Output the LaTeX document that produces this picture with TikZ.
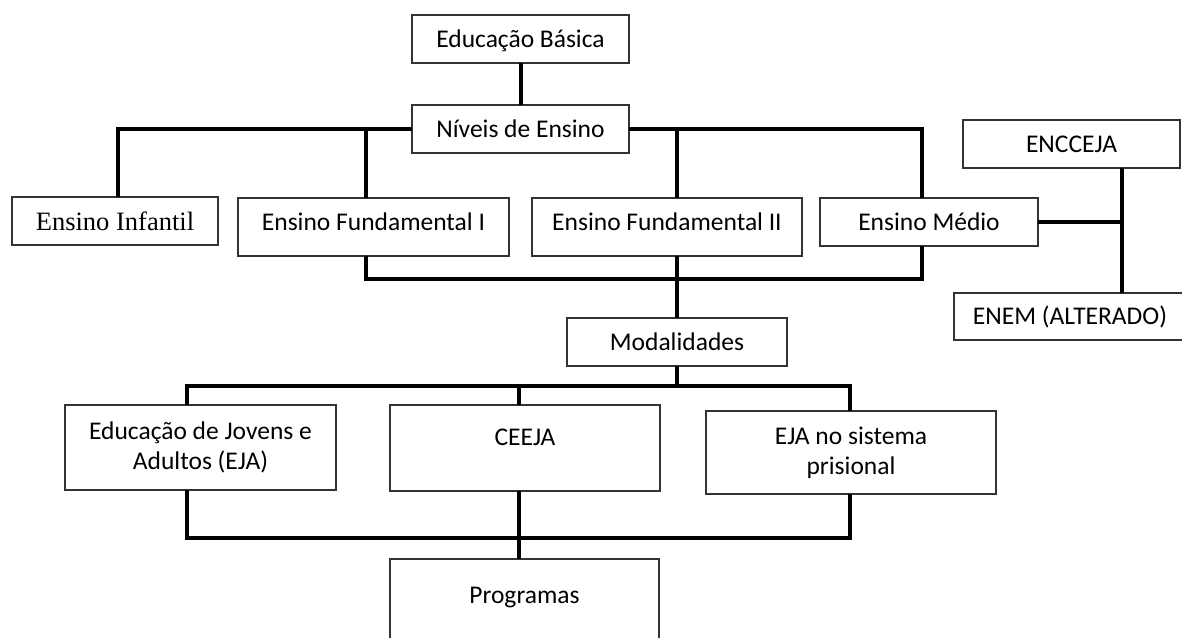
\documentclass[tikz,border=0pt]{standalone}
\usepackage{fontspec}
\setmainfont{Carlito}
\newfontfamily\serifone{Liberation Serif}
\begin{document}
\begin{tikzpicture}[x=1pt,y=-1pt,
  box/.style={draw=black!80, line width=1.2pt, rectangle, inner sep=0pt, outer sep=0pt,
    font=\fontsize{25.5}{30}\selectfont, align=center, text=black},
  tx/.style={text height=18pt, text depth=#1}, tx/.default=2pt,
  conn/.style={line width=4pt, black}]
\useasboundingbox (0,0) rectangle (1182,637);

\node[box, tx, minimum width=217pt, minimum height=48pt] (eb) at (520.5,39) {Educação Básica};
\node[box, tx, minimum width=217pt, minimum height=48pt] (ne) at (520.5,129) {Níveis de Ensino};
\node[box, minimum width=206pt, minimum height=48pt, font=\serifone\fontsize{26.5}{31}\selectfont,
      text height=18pt, text depth=0pt] (ei) at (115,221) {Ensino Infantil};
\node[box, tx=11pt, minimum width=271pt, minimum height=58pt] (ef1) at (373.5,227) {Ensino Fundamental I};
\node[box, tx=11pt, minimum width=270pt, minimum height=58pt] (ef2) at (667,227) {Ensino Fundamental II};
\node[box, tx, minimum width=218pt, minimum height=48pt] (em) at (929,222) {Ensino Médio};
\node[box, tx, minimum width=217pt, minimum height=48pt] (enc) at (1071.5,144) {ENCCEJA};
\node[box, tx, minimum width=232pt, minimum height=47pt] (enem) at (1070,316.5) {ENEM (ALTERADO)};
\node[box, tx, minimum width=220pt, minimum height=48pt] (mod) at (677,342) {Modalidades};
\node[box, minimum width=271pt, minimum height=85pt] (eja) at (200.5,447.5) {Educação de Jovens e\\Adultos (EJA)};
\node[box, tx=24pt, minimum width=270pt, minimum height=86pt] (cee) at (525,448) {CEEJA};
\node[box, minimum width=290pt, minimum height=83pt] (pri) at (851,452.5) {EJA no sistema\\prisional};
\node[box, tx=16pt, minimum width=269pt, minimum height=86pt] (prog) at (524.5,602) {Programas};

\coordinate (j1) at (677,279);
\coordinate (j2) at (677,386);
\coordinate (j3) at (519,538);

\draw[conn] (eb.south) -- (ne.north);
\draw[conn] ([xshift=3pt]ei.north) |- (ne.west);
\draw[conn] (ne.east) -| ([xshift=-7pt]em.north);
\coordinate (f1t) at ([xshift=-7.5pt]ef1.north);
\coordinate (f2t) at ([xshift=10pt]ef2.north);
\draw[conn] (f1t) -- (f1t |- ne.west);
\draw[conn] (f2t) -- (f2t |- ne.west);
\coordinate (f1b) at ([xshift=-7.5pt]ef1.south);
\coordinate (f2b) at ([xshift=10pt]ef2.south);
\draw[conn] (f1b) |- (j1) -| ([xshift=-7pt]em.south);
\draw[conn] (f2b) -- (mod.north);
\draw[conn] (mod.south) -- (j2);
\draw[conn] ([xshift=-13.5pt]eja.north) |- (j2) -| ([xshift=-1pt]pri.north);
\coordinate (ct) at ([xshift=-6pt]cee.north);
\draw[conn] (ct) -- (ct |- j2);
\draw[conn] ([xshift=-13.5pt]eja.south) |- (j3) -| ([xshift=-1pt]pri.south);
\coordinate (cb) at ([xshift=-6pt]cee.south);
\draw[conn] (cb) -- (cb |- prog.north);
\coordinate (nb) at ([xshift=50.5pt]enc.south);
\draw[conn] (nb) -- (nb |- enem.north);
\draw[conn] (em.east) -- (em.east -| nb);
\end{tikzpicture}
\end{document}
